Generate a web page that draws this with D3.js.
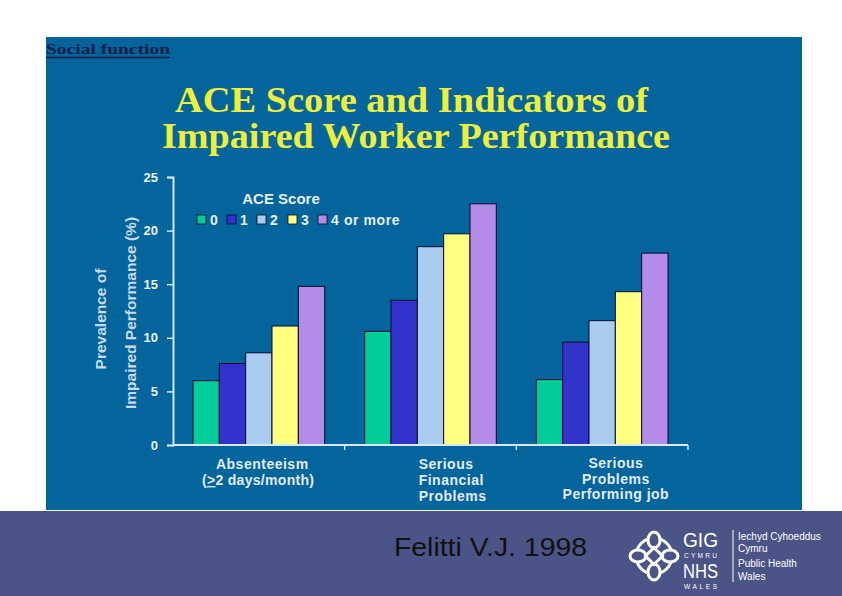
<!DOCTYPE html>
<html>
<head>
<meta charset="utf-8">
<script src="https://cdn.jsdelivr.net/npm/d3@7"></script>
<style>
  body { margin: 0; background: #fff; }
</style>
</head>
<body>
<div id="chart"></div>
<script>
// data
var categories = ['Absenteeism', 'Serious Financial Problems', 'Serious Problems Performing job'];
var scores = ['0', '1', '2', '3', '4 or more'];
var absenteeism = [6.0, 7.6, 8.6, 11.1, 14.8];
var financial = [10.6, 13.5, 18.5, 19.7, 22.5];
var performing = [6.1, 9.6, 11.6, 14.3, 17.9];
var yTicks = [0, 5, 10, 15, 20, 25];
var colors = ['#00cc99', '#3333cc', '#aaccee', '#ffff80', '#b38be8'];

var series = [absenteeism, financial, performing];

var W = 842, H = 596;
var serif = '"Liberation Serif", "Times New Roman", serif';
var svg = d3.select('#chart').append('svg')
  .attr('width', W).attr('height', H)
  .style('font-family', '"Liberation Sans", Arial, sans-serif');

// slide background
svg.append('rect').attr('x', 46).attr('y', 37).attr('width', 756).attr('height', 473)
  .attr('fill', '#03659b');
svg.append('rect').attr('x', 0).attr('y', 511).attr('width', W).attr('height', H - 511)
  .attr('fill', '#4a5487');

// header link
svg.append('text').attr('x', 46).attr('y', 54)
  .attr('textLength', 124).attr('lengthAdjust', 'spacingAndGlyphs')
  .style('font-family', serif).style('font-weight', 'bold')
  .style('font-size', '14px').attr('fill', '#0b1d4c')
  .text('Social function');
svg.append('line').attr('x1', 46).attr('x2', 170).attr('y1', 57.5).attr('y2', 57.5)
  .attr('stroke', '#0b1d4c').attr('stroke-width', 1.5);

// title
var title = svg.append('g')
  .style('font-family', serif).style('font-weight', 'bold')
  .style('font-size', '35px').attr('fill', '#eeee3c');
title.append('text').attr('x', 175).attr('y', 112)
  .attr('textLength', 473).attr('lengthAdjust', 'spacingAndGlyphs')
  .text('ACE Score and Indicators of');
title.append('text').attr('x', 162).attr('y', 148)
  .attr('textLength', 508).attr('lengthAdjust', 'spacingAndGlyphs')
  .text('Impaired Worker Performance');

// scales
var x0 = d3.scaleBand().domain(categories).range([173, 688]).padding(0);
var x1 = d3.scaleBand().domain(scores).range([0, x0.bandwidth()])
  .paddingInner(0).paddingOuter(0.76);
var y = d3.scaleLinear().domain([0, 25]).range([445, 177]);

var axisColor = '#d8e6f2';

// bars
var groups = svg.append('g').selectAll('g')
  .data(categories).join('g')
  .attr('transform', function (d) { return 'translate(' + x0(d) + ',0)'; });

groups.selectAll('rect')
  .data(function (d, i) {
    return series[i].map(function (v, j) { return { k: scores[j], v: v, c: colors[j] }; });
  })
  .join('rect')
  .attr('x', function (d) { return x1(d.k); })
  .attr('y', function (d) { return y(d.v); })
  .attr('width', x1.bandwidth())
  .attr('height', function (d) { return y(0) - y(d.v); })
  .attr('fill', function (d) { return d.c; })
  .attr('stroke', '#0a0a30').attr('stroke-width', 1);

// y axis
var yAxis = svg.append('g').attr('transform', 'translate(173,0)')
  .call(d3.axisLeft(y).tickValues(yTicks).tickSize(6).tickPadding(9));
yAxis.select('.domain').attr('stroke', axisColor).attr('stroke-width', 2);
yAxis.selectAll('.tick line').attr('stroke', axisColor).attr('stroke-width', 1.5);
yAxis.selectAll('.tick text')
  .style('font-size', '13px').style('font-weight', 'bold')
  .style('font-family', '"Liberation Sans", Arial, sans-serif')
  .attr('fill', '#eef3f8');

// x axis with ticks at category boundaries
var xAxis = svg.append('g').attr('transform', 'translate(0,445)');
xAxis.append('line').attr('x1', 173).attr('x2', 688).attr('y1', 0).attr('y2', 0)
  .attr('stroke', axisColor).attr('stroke-width', 2);
xAxis.selectAll('line.tk')
  .data(categories.slice(1).map(function (c) { return x0(c); }).concat([688]))
  .join('line').attr('class', 'tk')
  .attr('x1', function (d) { return d; }).attr('x2', function (d) { return d; })
  .attr('y1', 0).attr('y2', 5)
  .attr('stroke', axisColor).attr('stroke-width', 1.5);

// category labels
var labelFill = '#e2ebf5';
var catLabels = [
  { lines: ['Absenteeism'], anchor: 'middle', dx: 0.52, ys: [469] },
  { lines: ['Serious', 'Financial', 'Problems'], anchor: 'start', dx: 74, ys: [469, 485, 501] },
  { lines: ['Serious', 'Problems', 'Performing job'], anchor: 'middle', dx: 0.58, ys: [468, 484, 499] }
];
catLabels.forEach(function (c, i) {
  var cx = c.anchor === 'middle' ? x0(categories[i]) + x0.bandwidth() * c.dx : x0(categories[i]) + c.dx;
  var t = svg.append('text')
    .attr('text-anchor', c.anchor)
    .style('font-size', '14px').style('font-weight', 'bold')
    .style('letter-spacing', '0.5px')
    .attr('fill', labelFill);
  c.lines.forEach(function (l, k) {
    t.append('tspan').attr('x', cx).attr('y', c.ys[k]).text(l);
  });
});
// second line of the first label, ">" underlined so it reads as "≥"
var ab = svg.append('text').attr('x', 202).attr('y', 485)
  .style('font-size', '14px').style('font-weight', 'bold')
  .style('letter-spacing', '0.3px').attr('fill', labelFill);
ab.append('tspan').text('(');
ab.append('tspan').style('text-decoration', 'underline').text('>');
ab.append('tspan').text('2  days/month)');

// y axis title (two lines, rotated)
var yt = svg.append('g').attr('fill', '#c9d9e8')
  .style('font-size', '15.5px').style('font-weight', 'bold');
yt.append('text').attr('transform', 'translate(106,319) rotate(-90)')
  .attr('text-anchor', 'middle').text('Prevalence of');
yt.append('text').attr('transform', 'translate(136,313) rotate(-90)')
  .attr('text-anchor', 'middle').text('Impaired Performance (%)');

// legend
svg.append('text').attr('x', 281).attr('y', 204).attr('text-anchor', 'middle')
  .style('font-size', '15px').style('font-weight', 'bold').attr('fill', '#e6eef6')
  .text('ACE Score');
var legX = [197, 227, 257, 288, 318];
var leg = svg.append('g').selectAll('g').data(scores).join('g')
  .attr('transform', function (d, i) { return 'translate(' + legX[i] + ',215)'; });
leg.append('rect').attr('width', 9).attr('height', 9)
  .attr('fill', function (d, i) { return colors[i]; })
  .attr('stroke', '#0a0a30').attr('stroke-width', 0.8);
leg.append('text').attr('x', 13).attr('y', 10)
  .style('font-size', '14px').style('font-weight', 'bold').attr('fill', '#e6eef6')
  .style('letter-spacing', '0.6px')
  .text(function (d) { return d; });

// footer
svg.append('text').attr('x', 394).attr('y', 556)
  .attr('textLength', 193).attr('lengthAdjust', 'spacingAndGlyphs')
  .style('font-size', '25px').attr('fill', '#111')
  .text('Felitti V.J. 1998');

// logo
var logo = svg.append('g').attr('transform', 'translate(654,556)')
  .attr('fill', 'none').attr('stroke', '#fff');
logo.append('circle').attr('r', 18).attr('stroke-width', 3);
[0, 90, 180, 270].forEach(function (a) {
  logo.append('ellipse').attr('transform', 'rotate(' + a + ') translate(0,-16)')
    .attr('rx', 6).attr('ry', 8).attr('stroke-width', 3).attr('fill', '#4a5487');
});
logo.append('rect').attr('x', -6).attr('y', -6).attr('width', 12).attr('height', 12)
  .attr('transform', 'rotate(45)').attr('stroke-width', 3);

var lt = svg.append('g').attr('fill', '#fff');
lt.append('text').attr('x', 683).attr('y', 547).style('font-size', '20px')
  .attr('textLength', 35).attr('lengthAdjust', 'spacingAndGlyphs').text('GIG');
lt.append('text').attr('x', 684).attr('y', 558).style('font-size', '6.5px')
  .attr('textLength', 33).text('CYMRU');
lt.append('text').attr('x', 683).attr('y', 578).style('font-size', '20px')
  .attr('textLength', 35).attr('lengthAdjust', 'spacingAndGlyphs').text('NHS');
lt.append('text').attr('x', 684).attr('y', 589).style('font-size', '6.5px')
  .attr('textLength', 33).text('WALES');
svg.append('line').attr('x1', 733).attr('x2', 733).attr('y1', 530).attr('y2', 582)
  .attr('stroke', '#fff').attr('stroke-width', 1);
var rt = svg.append('g').attr('fill', '#fff').style('font-size', '10px');
[['Iechyd Cyhoeddus', 540], ['Cymru', 552], ['Public Health', 567], ['Wales', 580]]
  .forEach(function (d) {
    rt.append('text').attr('x', 738).attr('y', d[1]).text(d[0]);
  });
</script>
</body>
</html>
